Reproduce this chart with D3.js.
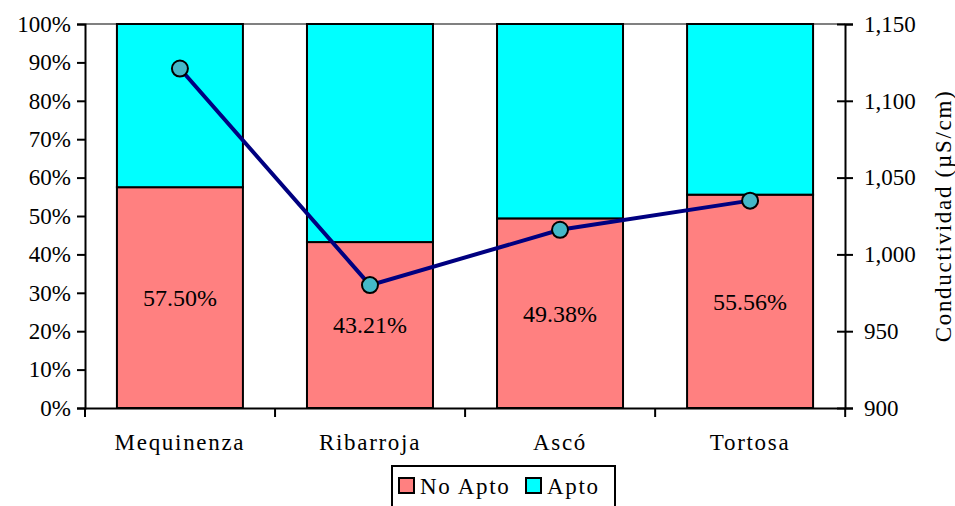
<!DOCTYPE html>
<html>
<head>
<meta charset="utf-8">
<script src="https://cdn.jsdelivr.net/npm/d3@7"></script>
<style>
  html, body { margin: 0; padding: 0; background: #fff; }
</style>
</head>
<body>
<div id="chart"></div>
<script>
// data
const stations = ['Mequinenza', 'Ribarroja', 'Ascó', 'Tortosa'];
const noApto = [57.50, 43.21, 49.38, 55.56];
const apto = noApto.map(v => 100 - v);
const conductividad = [1121, 980, 1016, 1035];
const pctTicks = [0, 10, 20, 30, 40, 50, 60, 70, 80, 90, 100];
const condTicks = [900, 950, 1000, 1050, 1100, 1150];
const seriesNames = ['No Apto', 'Apto'];
const seriesColors = ['#ff8080', '#00ffff'];

const width = 955, height = 506;
const margin = { top: 24, right: 110, bottom: 98, left: 85 };
const fontSize = 23;
const wordSpacing = 1.7; // the original face is wider than Liberation Serif
const serif = "'Liberation Serif', 'DejaVu Serif', serif";

const svg = d3.select('#chart').append('svg')
  .attr('width', width)
  .attr('height', height)
  .attr('font-family', serif);

const x = d3.scaleBand()
  .domain(stations)
  .range([margin.left, width - margin.right])
  .paddingInner(0.337)
  .paddingOuter(0.168);

const y = d3.scaleLinear()
  .domain([0, 100])
  .range([height - margin.bottom, margin.top]);

const y2 = d3.scaleLinear()
  .domain([900, 1150])
  .range([height - margin.bottom, margin.top]);

// gray top border of plot area
svg.append('line')
  .attr('x1', margin.left).attr('x2', width - margin.right)
  .attr('y1', y(100)).attr('y2', y(100))
  .attr('stroke', '#808080').attr('stroke-width', 2);

// stacked bars
const rows = stations.map((s, i) => ({ station: s, 'No Apto': noApto[i], 'Apto': apto[i] }));
const stack = d3.stack().keys(seriesNames)(rows);

svg.selectAll('.layer')
  .data(stack)
  .enter().append('g')
  .attr('fill', (d, i) => seriesColors[i])
  .selectAll('rect')
  .data(d => d)
  .enter().append('rect')
  .attr('x', d => x(d.data.station))
  .attr('width', x.bandwidth())
  .attr('y', d => y(d[1]))
  .attr('height', d => y(d[0]) - y(d[1]))
  .attr('stroke', '#000')
  .attr('stroke-width', 2);

// value labels inside No Apto bars
svg.selectAll('.val')
  .data(stations)
  .enter().append('text')
  .attr('x', d => x(d) + x.bandwidth() / 2)
  .attr('y', (d, i) => y(noApto[i] / 2))
  .attr('dy', '0.35em')
  .attr('text-anchor', 'middle')
  .attr('font-size', 24)
  .text((d, i) => noApto[i].toFixed(2) + '%');

// left axis
const gl = svg.append('g')
  .attr('transform', `translate(${margin.left},0)`)
  .call(d3.axisLeft(y).tickValues(pctTicks).tickFormat(d => d + '%').tickSize(8).tickPadding(6));

// right axis
const gr = svg.append('g')
  .attr('transform', `translate(${width - margin.right},0)`)
  .call(d3.axisRight(y2).tickValues(condTicks).tickFormat(d3.format(',')).tickSize(8).tickPadding(11));
gr.selectAll('.tick line').attr('x1', -8);

// bottom axis with ticks at category boundaries
const gb = svg.append('g')
  .attr('transform', `translate(0,${y(0)})`)
  .call(d3.axisBottom(x).tickSize(0).tickPadding(26));
gb.selectAll('text').attr('letter-spacing', wordSpacing);
const step = x.step();
const bounds = d3.range(stations.length + 1).map(i => margin.left + i * step);
gb.selectAll('.bound')
  .data(bounds)
  .enter().append('line')
  .attr('x1', d => d).attr('x2', d => d)
  .attr('y1', 0).attr('y2', 9)
  .attr('stroke', '#000').attr('stroke-width', 2);

[gl, gr, gb].forEach(g => {
  g.attr('font-family', serif).attr('font-size', fontSize);
  g.selectAll('text').attr('fill', '#000');
});

svg.selectAll('.domain').attr('stroke', '#000').attr('stroke-width', 2);
svg.selectAll('.tick line').attr('stroke', '#000').attr('stroke-width', 2);

// conductivity line
const line = d3.line()
  .x((d, i) => x(stations[i]) + x.bandwidth() / 2)
  .y(d => y2(d));

svg.append('path')
  .datum(conductividad)
  .attr('d', line)
  .attr('fill', 'none')
  .attr('stroke', '#000080')
  .attr('stroke-width', 4);

svg.selectAll('.pt')
  .data(conductividad)
  .enter().append('circle')
  .attr('cx', (d, i) => x(stations[i]) + x.bandwidth() / 2)
  .attr('cy', d => y2(d))
  .attr('r', 8)
  .attr('fill', '#44b8c8')
  .attr('stroke', '#000')
  .attr('stroke-width', 2);

// right axis title
svg.append('text')
  .attr('transform', `translate(943,${(margin.top + y(0)) / 2}) rotate(-90)`)
  .attr('text-anchor', 'middle')
  .attr('dy', '0.35em')
  .attr('font-size', fontSize)
  .attr('letter-spacing', wordSpacing)
  .text('Conductividad (µS/cm)');

// legend
const lg = svg.append('g').attr('transform', 'translate(392,466)');
lg.append('rect')
  .attr('width', 223).attr('height', 46)
  .attr('fill', '#fff').attr('stroke', '#000').attr('stroke-width', 2);
const legendX = [7, 134];
seriesNames.forEach((name, i) => {
  lg.append('rect')
    .attr('x', legendX[i]).attr('y', 12)
    .attr('width', 15).attr('height', 15)
    .attr('fill', seriesColors[i])
    .attr('stroke', '#000').attr('stroke-width', 2);
  lg.append('text')
    .attr('x', legendX[i] + 21).attr('y', 20)
    .attr('dy', '0.35em')
    .attr('font-size', fontSize)
    .attr('letter-spacing', wordSpacing)
    .text(name);
});
</script>
</body>
</html>
